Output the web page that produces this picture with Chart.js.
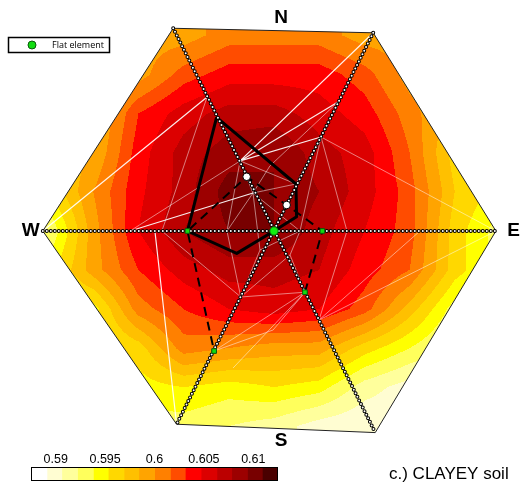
<!DOCTYPE html>
<html>
<head>
<meta charset="utf-8">
<script src="https://cdn.jsdelivr.net/npm/chart.js@4.4.1/dist/chart.umd.min.js"></script>
<style>
  html, body { margin: 0; padding: 0; background: #fff; }
  #wrap { position: relative; width: 520px; height: 487px; overflow: hidden; }
  #map { position: absolute; left: 0; top: 0; }
  #bar { position: absolute; left: 24px; top: 446px; }
</style>
</head>
<body>
<div id="wrap">
  <canvas id="map" width="520" height="487"></canvas>
  <canvas id="bar" width="262" height="40"></canvas>
</div>
<script>
// Plan coordinates: footing centre at 0,0, corner distance ~1

// hexagon corners W, NW, NE, E, SE, SW
const hexCorners = [
  [-1.023, 0], [-0.446, 0.897], [0.439, 0.877],
  [0.982, 0], [0.448, -0.892], [-0.431, -0.855]
];

// sampled result field (rows north -> south, columns west -> east)
const gridU = [-1.0, -0.8, -0.6, -0.4, -0.2, 0, 0.2, 0.4, 0.6, 0.8, 1.0];
const gridV = [0.866, 0.693, 0.520, 0.346, 0.173, 0, -0.173, -0.346, -0.520, -0.693, -0.866];
const field = [
  [0.5992, 0.5992, 0.5992, 0.5992, 0.6008, 0.6008, 0.6008, 0.5992, 0.5992, 0.5992, 0.5992],
  [0.5977, 0.5977, 0.5992, 0.6023, 0.6039, 0.6039, 0.6039, 0.6023, 0.5992, 0.5977, 0.5977],
  [0.5969, 0.5977, 0.6031, 0.6055, 0.6070, 0.6070, 0.6055, 0.6039, 0.6008, 0.5977, 0.5961],
  [0.5969, 0.5984, 0.6039, 0.6070, 0.6086, 0.6094, 0.6070, 0.6055, 0.6016, 0.5961, 0.5945],
  [0.5953, 0.6000, 0.6043, 0.6070, 0.6102, 0.6094, 0.6078, 0.6055, 0.6023, 0.5969, 0.5945],
  [0.5922, 0.5992, 0.6047, 0.6078, 0.6094, 0.6094, 0.6070, 0.6047, 0.6023, 0.5961, 0.5930],
  [0.5945, 0.5992, 0.6031, 0.6055, 0.6070, 0.6070, 0.6063, 0.6039, 0.6016, 0.5961, 0.5930],
  [0.5945, 0.5945, 0.6008, 0.6031, 0.6047, 0.6055, 0.6047, 0.6023, 0.5977, 0.5930, 0.5914],
  [0.5945, 0.5945, 0.5961, 0.6008, 0.6000, 0.5992, 0.5992, 0.5961, 0.5938, 0.5914, 0.5914],
  [0.5945, 0.5945, 0.5945, 0.5953, 0.5945, 0.5953, 0.5945, 0.5914, 0.5898, 0.5898, 0.5898],
  [0.5930, 0.5930, 0.5930, 0.5930, 0.5922, 0.5914, 0.5898, 0.5891, 0.5891, 0.5891, 0.5891]
];

// colour classes
const levels = [0.5875, 0.5891, 0.5906, 0.5922, 0.5938, 0.5953, 0.5969, 0.5984, 0.6000,
                0.6016, 0.6031, 0.6047, 0.6063, 0.6078, 0.6094, 0.6109, 0.6125];
const levelColors = ['#ffffff', '#fffdd2', '#ffff9c', '#ffff5c', '#ffff00', '#ffd800', '#ffc000', '#ffa400',
                     '#ff8000', '#ff4c00', '#ff0000', '#dc0000', '#bb0000', '#9c0000', '#780000', '#4a0000'];
const colorTicks = [0.59, 0.595, 0.6, 0.605, 0.61];

// triangulation
const meshNodes = [
  [-1.023, 0], [-0.296, 0.593], [-0.150, 0.310], [0.439, 0.877], [0.208, 0.416],
  [0.283, 0.571], [0.982, 0], [0.199, -0.394], [-0.147, -0.292], [-0.431, -0.855],
  [-0.527, 0], [-0.637, 0], [-0.093, 0.168], [-0.496, 0], [0.137, -0.271],
  [-0.265, -0.531], [0.323, 0], [0.646, 0], [-0.208, 0], [0.097, 0.208],
  [-0.004, -0.438], [0.115, 0], [-0.181, -0.606], [-0.018, 0.288], [-0.062, -0.084],
  [0.071, -0.106]
];
const meshMain = [[0, 1], [3, 2], [11, 12], [10, 9], [5, 2], [4, 2]];
const meshThin = [
  [1, 13], [2, 18], [2, 12], [2, 19], [4, 6], [4, 16], [4, 21], [4, 19], [7, 6], [7, 17],
  [7, 16], [7, 14], [8, 13], [8, 18], [8, 14], [8, 24], [15, 14], [15, 20], [22, 14], [9, 8],
  [20, 14], [24, 21], [24, 12], [12, 21], [25, 14], [25, 21], [12, 19], [5, 23], [23, 12],
  [18, 12], [8, 25], [11, 2]
];

// axes through the centre (corner index pairs)
const axisPairs = [[0, 3], [1, 4], [2, 5]];

// element outlines
const solidOutline = [[-0.254, 0.503], [0.097, 0.208], [0.100, 0.063], [0, 0], [-0.165, -0.099], [-0.383, 0], [-0.254, 0.503]];
const dashedOutline = [[0.137, -0.271], [0.214, 0], [0.056, 0.115], [-0.121, 0.240], [-0.383, 0], [-0.265, -0.531]];
const openMarks = [[-0.121, 0.240], [0.056, 0.115]];
const flatElements = [[-0.383, 0], [0.214, 0], [0.137, -0.271], [-0.265, -0.531]];
const centreMark = [[0, 0]];

const compassLabels = [['N', 0.031, 0.945], ['E', 1.060, 0.0], ['S', 0.031, -0.930], ['W', -1.077, 0.0]];

const pt = ([u, v]) => ({ x: u, y: v });
const gap = { x: null, y: null };
const segData = segs => segs.flatMap(([a, b]) => [pt(meshNodes[a]), pt(meshNodes[b]), gap]);

const hexToRgb = h => [1, 3, 5].map(i => parseInt(h.substr(i, 2), 16));
const clamp = (v, lo, hi) => Math.min(Math.max(v, lo), hi);

function fieldValue(u, v) {
  const fi = clamp((u - gridU[0]) / (gridU[1] - gridU[0]), 0, gridU.length - 1);
  const fj = clamp((gridV[0] - v) / (gridV[0] - gridV[1]), 0, gridV.length - 1);
  const i0 = Math.min(Math.floor(fi), gridU.length - 2), ti = fi - i0;
  const j0 = Math.min(Math.floor(fj), gridV.length - 2), tj = fj - j0;
  const top = field[j0][i0] * (1 - ti) + field[j0][i0 + 1] * ti;
  const bot = field[j0 + 1][i0] * (1 - ti) + field[j0 + 1][i0 + 1] * ti;
  return top * (1 - tj) + bot * tj;
}

function hexPath(ctx, x, y) {
  ctx.beginPath();
  hexCorners.forEach(([u, v], n) => {
    const px = x.getPixelForValue(u), py = y.getPixelForValue(v);
    n ? ctx.lineTo(px, py) : ctx.moveTo(px, py);
  });
  ctx.closePath();
}

// shaded contour classes inside the hexagon
const fieldLayer = {
  id: 'fieldLayer',
  beforeDatasetsDraw(chart) {
    const { ctx, chartArea: a, scales: { x, y } } = chart;
    const w = Math.round(a.right - a.left), h = Math.round(a.bottom - a.top);
    const off = document.createElement('canvas');
    off.width = w; off.height = h;
    const octx = off.getContext('2d');
    const img = octx.createImageData(w, h);
    const rgb = levelColors.map(hexToRgb);
    for (let j = 0; j < h; j++) {
      const v = y.getValueForPixel(a.top + j + 0.5);
      for (let i = 0; i < w; i++) {
        const val = fieldValue(x.getValueForPixel(a.left + i + 0.5), v);
        let k = 0;
        while (k < levelColors.length - 1 && val >= levels[k + 1]) k++;
        const c = rgb[k], p = (j * w + i) * 4;
        img.data[p] = c[0]; img.data[p + 1] = c[1]; img.data[p + 2] = c[2]; img.data[p + 3] = 255;
      }
    }
    octx.putImageData(img, 0, 0);
    ctx.save();
    hexPath(ctx, x, y);
    ctx.clip();
    ctx.drawImage(off, a.left, a.top);
    ctx.restore();
  }
};

// compass letters, legend and caption
const annotations = {
  id: 'annotations',
  afterDraw(chart) {
    const { ctx, scales: { x, y } } = chart;
    ctx.save();
    ctx.fillStyle = '#000';
    ctx.textAlign = 'center';
    ctx.textBaseline = 'middle';
    ctx.font = 'bold 19px "Liberation Sans", Arial, sans-serif';
    compassLabels.forEach(([t, u, v]) => ctx.fillText(t, x.getPixelForValue(u), y.getPixelForValue(v)));

    // legend box
    ctx.fillStyle = '#fff';
    ctx.fillRect(8, 37, 102, 16);
    ctx.lineWidth = 1.5;
    ctx.strokeStyle = '#000';
    ctx.strokeRect(8.5, 37.5, 101, 15);
    ctx.beginPath();
    ctx.arc(32, 45, 4, 0, Math.PI * 2);
    ctx.fillStyle = '#11dd11';
    ctx.fill();
    ctx.lineWidth = 1;
    ctx.strokeStyle = '#0a5a0a';
    ctx.stroke();
    ctx.fillStyle = '#000';
    ctx.textAlign = 'left';
    ctx.font = '9px "Open Sans", sans-serif';
    ctx.fillText('Flat element', 52, 45.5);

    ctx.textBaseline = 'alphabetic';
    ctx.font = '17px "Liberation Sans", Arial, sans-serif';
    ctx.fillText('c.) CLAYEY soil', 389, 479);
    ctx.restore();
  }
};

const lineSet = (data, color, width, order, extra = {}) => ({
  data, showLine: true, borderColor: color, borderWidth: width,
  pointRadius: 0, spanGaps: false, order, ...extra
});

const datasets = [
  lineSet(segData(meshThin), 'rgba(255,255,255,0.55)', 0.9, 12),
  lineSet(segData(meshMain), 'rgba(255,255,255,0.92)', 1.2, 11),
  lineSet([...hexCorners, hexCorners[0]].map(pt), '#222', 1, 10),
  lineSet(solidOutline.map(pt), '#000', 3, 9, { borderJoinStyle: 'round' }),
  lineSet(dashedOutline.map(pt), '#000', 2, 8, { borderDash: [9, 6] }),
  ...axisPairs.flatMap(([a, b], n) => [
    lineSet([pt(hexCorners[a]), pt(hexCorners[b])], '#000', 4, 7 - n * 0.1, { borderDash: [0, 4], borderCapStyle: 'round' }),
    lineSet([pt(hexCorners[a]), pt(hexCorners[b])], '#fff', 2, 4 - n * 0.1, { borderDash: [0, 4], borderCapStyle: 'round' })
  ]),
  { data: openMarks.map(pt), pointRadius: 3.8, pointBackgroundColor: '#fff', pointBorderColor: '#000', pointBorderWidth: 1, order: 2 },
  { data: flatElements.map(pt), pointStyle: 'rect', pointRadius: 3.3, pointBackgroundColor: '#11dd11', pointBorderColor: '#0a5a0a', pointBorderWidth: 1, order: 1 },
  { data: centreMark.map(pt), pointRadius: 4.2, pointBackgroundColor: '#11ee11', pointBorderColor: '#0a6a0a', pointBorderWidth: 1, order: 0 }
];

new Chart(document.getElementById('map'), {
  type: 'scatter',
  data: { datasets },
  options: {
    responsive: false,
    animation: false,
    devicePixelRatio: 1,
    events: [],
    layout: { padding: 0, autoPadding: false },
    plugins: { legend: { display: false }, tooltip: { enabled: false } },
    scales: {
      x: { type: 'linear', display: false, min: -1.2124, max: 1.0885 },
      y: { type: 'linear', display: false, min: -1.1327, max: 1.0221 }
    }
  },
  plugins: [fieldLayer, annotations]
});

// colour scale
const barFrame = {
  id: 'barFrame',
  afterDatasetsDraw(chart) {
    const { ctx, chartArea: a } = chart;
    ctx.save();
    ctx.strokeStyle = '#000';
    ctx.lineWidth = 1;
    ctx.strokeRect(a.left + 0.5, a.top + 0.5, a.right - a.left - 1, a.bottom - a.top - 1);
    ctx.restore();
  }
};

new Chart(document.getElementById('bar'), {
  type: 'bar',
  data: {
    labels: [''],
    datasets: levelColors.map((c, k) => ({
      data: [[levels[k], levels[k + 1]]],
      backgroundColor: c, borderWidth: 0, inflateAmount: 0.5,
      barPercentage: 1, categoryPercentage: 1, grouped: false
    }))
  },
  options: {
    indexAxis: 'y',
    responsive: false,
    animation: false,
    devicePixelRatio: 1,
    events: [],
    layout: { padding: { left: 7, right: 8, top: 0, bottom: 5 }, autoPadding: false },
    plugins: { legend: { display: false }, tooltip: { enabled: false } },
    scales: {
      x: {
        type: 'linear', position: 'top', min: levels[0], max: levels[levels.length - 1],
        afterBuildTicks: s => { s.ticks = colorTicks.map(value => ({ value })); },
        afterFit: s => { s.height = 21; },
        grid: { display: false, drawTicks: false },
        border: { display: false },
        ticks: {
          padding: 0, color: '#000',
          font: { family: '"Liberation Sans", Arial, sans-serif', size: 12.5 },
          callback: v => String(+(+v).toFixed(3))
        }
      },
      y: { display: false }
    }
  },
  plugins: [barFrame]
});
</script>
</body>
</html>
